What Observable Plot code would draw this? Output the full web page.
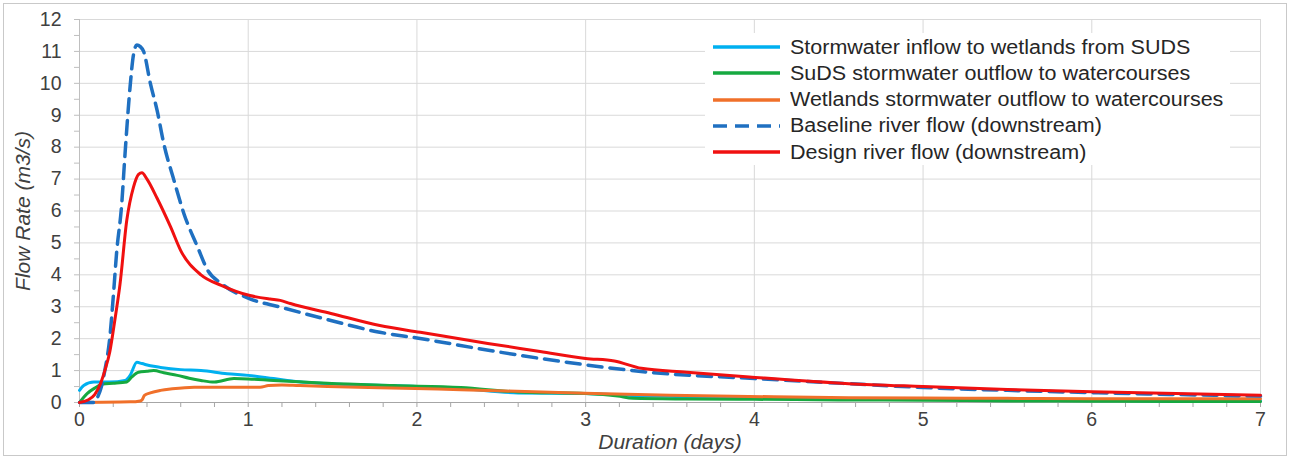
<!DOCTYPE html>
<html>
<head>
<meta charset="utf-8">
<script src="https://cdn.jsdelivr.net/npm/d3@7"></script>
<script src="https://cdn.jsdelivr.net/npm/@observablehq/plot@0.6"></script>
<style>
  html, body { margin: 0; padding: 0; background: #fff; }
  #wrap { position: relative; width: 1290px; height: 460px; font-family: "Liberation Sans", Arial, sans-serif; }
  #frame { position: absolute; left: 3px; top: 3px; width: 1284px; height: 453px; border: 1px solid #c9c9c9; box-sizing: border-box; pointer-events: none; }
  #legend { position: absolute; left: 705px; top: 33px; width: 525px; height: 132px; background: #fff; }
  .row { position: absolute; left: 8px; height: 26px; display: flex; align-items: center; }
  .row svg { width: 67px; height: 8px; margin-right: 10px; flex: none; }
  .row span { font-size: 20px; color: #262626; white-space: nowrap; display: inline-block; transform: scaleX(1.075); transform-origin: left center; }
  svg text { font-family: "Liberation Sans", Arial, sans-serif; }
  g[aria-label="x-axis label"] text, g[aria-label="y-axis label"] text { font-style: italic; font-size: 21px; fill: #404040; }
</style>
</head>
<body>
<div id="wrap"><div id="chart"></div><div id="legend"></div><div id="frame"></div></div>
<script>
// ---- data ----
const xTicks = [0, 1, 2, 3, 4, 5, 6, 7];
const yTicks = [0, 1, 2, 3, 4, 5, 6, 7, 8, 9, 10, 11, 12];
const seriesNames = [
  "Stormwater inflow to wetlands from SUDS",
  "SuDS stormwater outflow to watercourses",
  "Wetlands stormwater outflow to watercourses",
  "Baseline river flow (downstream)",
  "Design river flow (downstream)"
];
const seriesColors = ["#00b0f0", "#16a940", "#f0702a", "#1f70c1", "#f01010"];

const inflowT = [0, 0.025, 0.085, 0.18, 0.27, 0.30, 0.34, 0.37, 0.42, 0.48, 0.6, 0.72, 0.875, 1.0, 1.15, 1.3, 1.47, 1.86, 2.26, 2.6, 3.0, 3.3, 3.6, 4, 4.5, 5, 5.5, 6, 6.5, 7];
const inflowV = [0.38, 0.53, 0.64, 0.64, 0.69, 0.85, 1.26, 1.22, 1.15, 1.1, 1.03, 1.0, 0.9, 0.85, 0.75, 0.65, 0.59, 0.53, 0.44, 0.3, 0.28, 0.22, 0.18, 0.15, 0.12, 0.1, 0.08, 0.07, 0.05, 0.05];

const sudsT = [0, 0.045, 0.09, 0.14, 0.2, 0.28, 0.31, 0.35, 0.40, 0.44, 0.5, 0.58, 0.65, 0.72, 0.8, 0.915, 1.0, 1.15, 1.3, 1.47, 1.86, 2.26, 2.6, 3.0, 3.19, 3.28, 3.6, 4, 4.5, 5, 5.5, 6, 6.5, 7];
const sudsV = [0, 0.28, 0.45, 0.58, 0.6, 0.64, 0.8, 0.95, 0.98, 1.0, 0.93, 0.85, 0.76, 0.69, 0.64, 0.75, 0.74, 0.69, 0.65, 0.6, 0.53, 0.47, 0.33, 0.28, 0.2, 0.13, 0.11, 0.1, 0.08, 0.07, 0.05, 0.04, 0.03, 0.03];

const wetT = [0, 0.3, 0.36, 0.37, 0.385, 0.42, 0.48, 0.55, 0.68, 0.9, 1.07, 1.12, 1.2, 1.3, 1.47, 1.99, 2.26, 2.99, 3.5, 3.97, 4.56, 5, 5.5, 6, 6.5, 7];
const wetV = [0, 0.02, 0.05, 0.08, 0.22, 0.3, 0.38, 0.43, 0.48, 0.48, 0.48, 0.53, 0.55, 0.53, 0.5, 0.44, 0.4, 0.29, 0.23, 0.19, 0.15, 0.14, 0.13, 0.12, 0.12, 0.12];

const baseT = [0, 0.09, 0.11, 0.13, 0.15, 0.18, 0.20, 0.22, 0.25, 0.27, 0.30, 0.32, 0.34, 0.36, 0.38, 0.42, 0.46, 0.50, 0.56, 0.62, 0.70, 0.76, 0.84, 1.01, 1.19, 1.49, 1.78, 2.0, 2.5, 3.0, 3.37, 4.0, 4.56, 5.0, 5.5, 6.0, 6.5, 7.0];
const baseV = [0, 0, 0.2, 0.5, 1.0, 2.05, 3.3, 4.7, 6.2, 7.8, 9.9, 10.9, 11.2, 11.15, 11.0, 10.0, 9.15, 8.1, 6.96, 5.9, 4.87, 4.14, 3.73, 3.25, 2.99, 2.57, 2.2, 2.02, 1.57, 1.18, 0.95, 0.75, 0.59, 0.47, 0.38, 0.31, 0.25, 0.2];

const designT = [0, 0.05, 0.09, 0.125, 0.15, 0.18, 0.21, 0.24, 0.28, 0.32, 0.35, 0.37, 0.40, 0.46, 0.54, 0.60, 0.72, 0.84, 1.01, 1.13, 1.19, 1.25, 1.49, 1.78, 2.02, 2.42, 2.73, 3.0, 3.17, 3.33, 3.6, 3.97, 4.56, 5.0, 5.5, 6.0, 6.5, 7.0];
const designV = [0, 0.08, 0.25, 0.6, 1.0, 1.6, 2.6, 3.7, 5.7, 6.75, 7.15, 7.2, 7.0, 6.4, 5.5, 4.76, 4.0, 3.67, 3.35, 3.24, 3.2, 3.1, 2.79, 2.41, 2.2, 1.85, 1.6, 1.38, 1.3, 1.07, 0.95, 0.8, 0.59, 0.5, 0.41, 0.34, 0.28, 0.23];

const seriesT = [inflowT, sudsT, wetT, baseT, designT];
const seriesV = [inflowV, sudsV, wetV, baseV, designV];
const seriesDash = [null, null, null, "14,8", null];

const data = seriesT.map((ts, i) => ts.map((t, j) => ({t, v: seriesV[i][j]})));

const xMinor = d3.range(0, 36).map(i => i / 5);
const yMinor = d3.range(0, 25).map(i => i / 2);

const chart = Plot.plot({
  width: 1290,
  height: 460,
  marginLeft: 79,
  marginRight: 30,
  marginTop: 19,
  marginBottom: 58,
  x: {domain: [0, 7]},
  y: {domain: [0, 12]},
  style: {fontFamily: "Liberation Sans, Arial, sans-serif", background: "transparent"},
  marks: [
    Plot.gridY(yTicks, {stroke: "#d9d9d9", strokeOpacity: 1, strokeWidth: 1}),
    Plot.gridX(xTicks, {stroke: "#d9d9d9", strokeOpacity: 1, strokeWidth: 1}),
    Plot.ruleX([0], {stroke: "#bfbfbf"}),
    Plot.ruleY([0], {stroke: "#a6a6a6", strokeWidth: 1.2}),
    Plot.axisX(xMinor, {tickSize: 5, text: null, stroke: "#a6a6a6", label: null}),
    Plot.axisY(yMinor, {tickSize: 5, text: null, stroke: "#bfbfbf", label: null}),
    Plot.axisX(xTicks, {tickSize: 0, tickPadding: 10, fontSize: 19.5, fill: "#404040", tickFormat: d => String(d),
      label: "Duration (days)", labelAnchor: "center", labelOffset: 46, labelArrow: false}),
    Plot.axisY(yTicks, {tickSize: 0, tickPadding: 18, fontSize: 19.5, fill: "#404040", tickFormat: d => String(d),
      label: "Flow Rate (m3/s)", labelAnchor: "center", labelOffset: 64, labelArrow: false}),
    ...data.map((d, i) => Plot.line(d, {
      x: "t", y: "v",
      stroke: seriesColors[i],
      strokeWidth: i === 3 ? 3.5 : 3,
      strokeDasharray: seriesDash[i] || undefined,
      curve: "monotone-x"
    }))
  ]
});
document.getElementById("chart").appendChild(chart);

// legend
const legend = d3.select("#legend");
seriesNames.forEach((name, i) => {
  const row = legend.append("div").attr("class", "row").style("top", (i * 26.3 + 1) + "px");
  const sw = row.append("svg").attr("viewBox", "0 0 67 8");
  sw.append("line").attr("x1", 0).attr("x2", 67).attr("y1", 4).attr("y2", 4)
    .attr("stroke", seriesColors[i]).attr("stroke-width", 3.5)
    .attr("stroke-dasharray", seriesDash[i] ? "14,8" : null);
  row.append("span").text(name);
});
</script>
</body>
</html>
